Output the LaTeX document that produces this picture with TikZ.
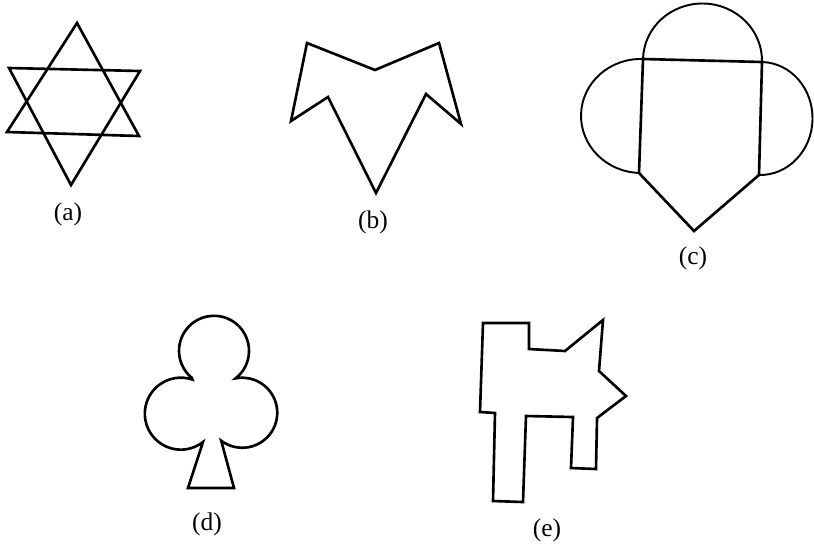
\documentclass[tikz,border=0pt]{standalone}
\usepackage{fontspec}
\setmainfont{Liberation Serif}
\usepackage{tikz}
\usetikzlibrary{calc}

\begin{document}
\begin{tikzpicture}[x=0.02cm, y=0.02cm, line width=1.5pt, line join=miter]
  \useasboundingbox (0,0) rectangle (814,-549);
  \def\figlabel#1#2{
    \node[font=\fontsize{14.5}{16}\selectfont, inner sep=0pt] (lab#1) at (#2) {(#1)};
  }

  % (a) two crossed triangles
  \draw (77,-23) -- (139,-136) -- (7,-132) -- cycle;
  \draw (9,-68) -- (140,-71) -- (71,-185) -- cycle;
  \figlabel{a}{68,-214}

  % (b)
  \draw (307,-43) -- (375,-70) -- (439,-43) -- (461,-124) -- (426,-94)
    -- (376,-193) -- (328,-97) -- (291,-121) -- cycle;
  \figlabel{b}{373,-222}

  % (c) square with three half discs and a point
  \draw (643,-59) -- (762,-62) -- (759,-175) -- (694,-231) -- (639,-173) -- cycle;
  \draw[line width=1.1pt, rotate around={-1.44:(643,-59)}]
    (643,-59) arc[start angle=180, end angle=0, x radius=59.5, y radius=57];
  \draw[line width=1.1pt, rotate around={-2:(643,-59)}]
    (643,-59) arc[start angle=90, end angle=270, x radius=60, y radius=57];
  \draw[line width=1.1pt, rotate around={-1.5:(762,-62)}]
    (762,-62) arc[start angle=90, end angle=-90, x radius=52, y radius=56.5];
  \figlabel{c}{693,-258}

  % (d) club
  \draw (192,-378) arc[start angle=231, end angle=-52, radius=35]
    arc[start angle=101, end angle=-127, radius=35]
    -- (234,-488) -- (188,-488) -- (203,-442)
    arc[start angle=-52, end angle=-289, radius=36] -- cycle;
  \figlabel{d}{207,-524}

  % (e)
  \draw (483,-323) -- (529,-323) -- (529,-349) -- (565,-351) -- (603,-320)
    -- (599,-371) -- (626,-396) -- (597,-418) -- (596,-469) -- (571,-468)
    -- (573,-417) -- (526,-416) -- (523,-502) -- (493,-501) -- (495,-413)
    -- (480,-412) -- cycle;
  \figlabel{e}{547,-530}
\end{tikzpicture}
\end{document}
